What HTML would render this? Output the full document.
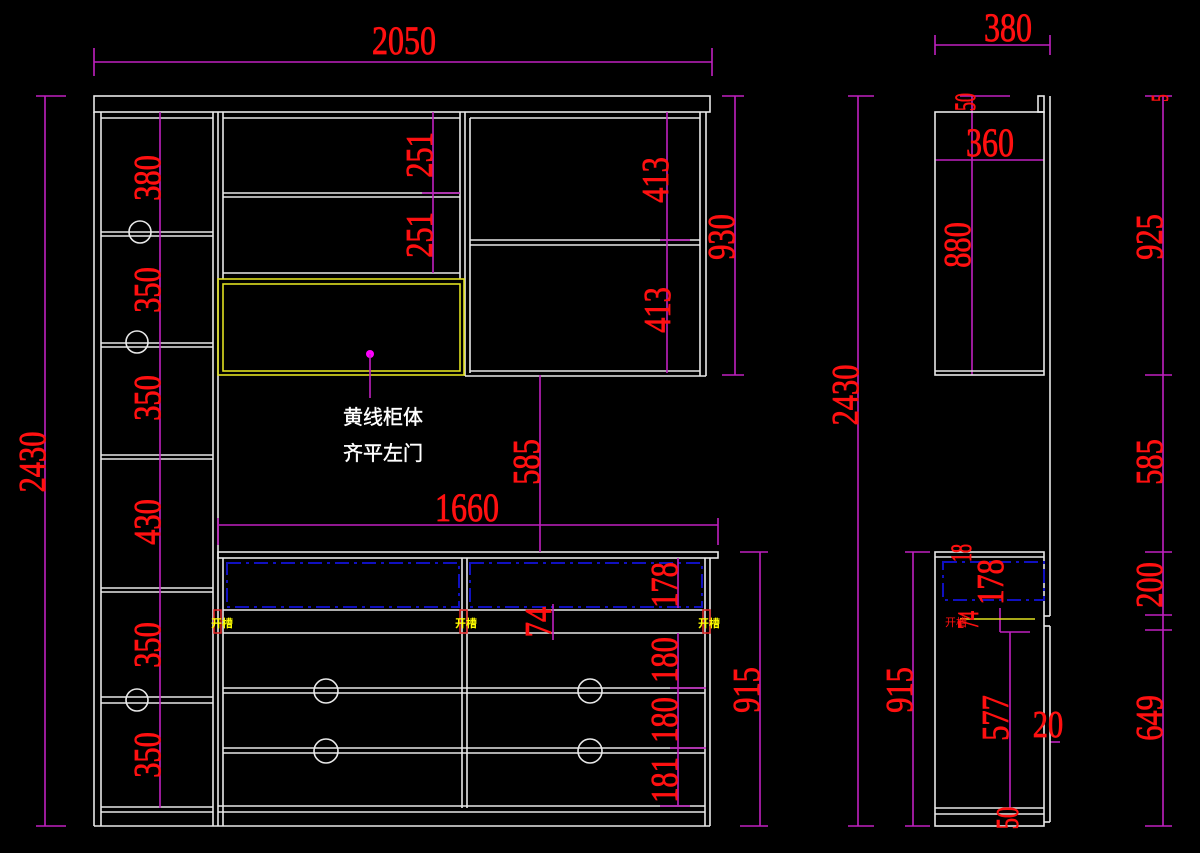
<!DOCTYPE html>
<html><head><meta charset="utf-8"><style>
html,body{margin:0;padding:0;background:#000;width:1200px;height:853px;overflow:hidden}
svg{display:block}
.w{stroke:#e8e8e8;stroke-width:1.6;fill:none}
.m{stroke:#c020c0;stroke-width:1.6;fill:none}
.y{stroke:#e0e020;stroke-width:1.6;fill:none}
.b{stroke:#1010c0;stroke-width:2;fill:none;stroke-dasharray:14 5 3 5}
.t{fill:#ff1010;stroke:#ff1010;stroke-width:0.8;font-family:"Liberation Serif",serif;font-size:40px;text-anchor:middle}
</style></head><body>
<svg width="1200" height="853" viewBox="0 0 1200 853" xmlns="http://www.w3.org/2000/svg">
<g class="w">
<rect x="94" y="96" width="616" height="16"/>
<line x1="94" y1="112" x2="94" y2="826"/><line x1="101" y1="112" x2="101" y2="826"/>
<line x1="94" y1="826" x2="218" y2="826"/>
<line x1="101" y1="118" x2="213" y2="118"/>
<line x1="213" y1="112" x2="213" y2="826"/><line x1="218" y1="112" x2="218" y2="826"/>
<line x1="223" y1="112" x2="223" y2="279"/>
<line x1="223" y1="118" x2="460" y2="118"/>
<line x1="460" y1="112" x2="460" y2="279"/><line x1="465" y1="112" x2="465" y2="376"/>
<line x1="470" y1="118" x2="470" y2="373"/>
<line x1="470" y1="118" x2="700" y2="118"/>
<line x1="700" y1="112" x2="700" y2="376"/><line x1="706" y1="112" x2="706" y2="376"/>
<line x1="465" y1="376" x2="706" y2="376"/><line x1="470" y1="371" x2="700" y2="371"/>
<line x1="101" y1="232" x2="213" y2="232"/><line x1="101" y1="236" x2="213" y2="236"/>
<line x1="101" y1="343" x2="213" y2="343"/><line x1="101" y1="347" x2="213" y2="347"/>
<line x1="101" y1="455" x2="213" y2="455"/><line x1="101" y1="459" x2="213" y2="459"/>
<line x1="101" y1="588" x2="213" y2="588"/><line x1="101" y1="592" x2="213" y2="592"/>
<line x1="101" y1="697" x2="213" y2="697"/><line x1="101" y1="703" x2="213" y2="703"/>
<line x1="101" y1="807" x2="213" y2="807"/><line x1="101" y1="812" x2="213" y2="812"/>
<line x1="223" y1="193" x2="460" y2="193"/><line x1="223" y1="197" x2="460" y2="197"/>
<line x1="223" y1="273" x2="460" y2="273"/>
<line x1="470" y1="240" x2="700" y2="240"/><line x1="470" y1="245" x2="700" y2="245"/>
<circle cx="140" cy="232" r="11"/><circle cx="137" cy="342" r="11"/><circle cx="137" cy="700" r="11"/>
<rect x="218" y="552" width="500" height="6"/>
<line x1="223" y1="558" x2="223" y2="826"/>
<line x1="462" y1="558" x2="462" y2="808"/><line x1="467" y1="558" x2="467" y2="808"/>
<line x1="705" y1="558" x2="705" y2="826"/><line x1="710" y1="558" x2="710" y2="826"/>
<line x1="218" y1="826" x2="710" y2="826"/>
<line x1="223" y1="610" x2="705" y2="610"/><line x1="223" y1="633" x2="705" y2="633"/>
<line x1="223" y1="688" x2="705" y2="688"/><line x1="223" y1="693" x2="705" y2="693"/>
<line x1="223" y1="748" x2="705" y2="748"/><line x1="223" y1="753" x2="705" y2="753"/>
<line x1="218" y1="806" x2="705" y2="806"/><line x1="218" y1="812" x2="705" y2="812"/>
<circle cx="326" cy="691" r="12"/><circle cx="590" cy="691" r="12"/>
<circle cx="326" cy="751" r="12"/><circle cx="590" cy="751" r="12"/>
</g>
<g class="y"><rect x="218" y="279" width="246" height="96"/><rect x="223" y="284" width="237" height="87"/></g>
<g class="b"><rect x="227" y="563" width="232" height="44"/><rect x="470" y="563" width="232" height="44"/></g>
<g stroke="#e02020" fill="none" stroke-width="1.5"><rect x="214" y="610" width="7" height="23"/><rect x="460" y="610" width="7" height="23"/><rect x="703" y="610" width="7" height="23"/></g>
<g fill="#ffff00" font-family="'Liberation Sans','Noto Sans CJK SC',sans-serif" font-size="11" font-weight="bold">
<text x="211" y="627">开槽</text><text x="455" y="627">开槽</text><text x="698" y="627">开槽</text></g>
<circle cx="370" cy="354" r="4" fill="#ff00ff"/>
<line class="m" x1="370" y1="354" x2="370" y2="398"/>
<g fill="#fff" stroke="#fff" stroke-width="0.4" font-family="'Liberation Sans','Noto Sans CJK SC',sans-serif" font-size="20">
<text x="343" y="424">黄线柜体</text><text x="343" y="460">齐平左门</text></g>
<g class="m">
<line x1="94" y1="62" x2="712" y2="62"/><line x1="94" y1="48" x2="94" y2="76"/><line x1="712" y1="48" x2="712" y2="76"/>
<line x1="45" y1="96" x2="45" y2="826"/><line x1="36" y1="96" x2="66" y2="96"/><line x1="36" y1="826" x2="66" y2="826"/>
<line x1="160" y1="112" x2="160" y2="808"/>
<line x1="433" y1="112" x2="433" y2="273"/><line x1="422" y1="193" x2="460" y2="193"/>
<line x1="667" y1="112" x2="667" y2="373"/><line x1="660" y1="240" x2="690" y2="240"/>
<line x1="735" y1="96" x2="735" y2="375"/><line x1="722" y1="96" x2="744" y2="96"/><line x1="722" y1="375" x2="744" y2="375"/>
<line x1="540" y1="375" x2="540" y2="552"/>
<line x1="218" y1="525" x2="718" y2="525"/><line x1="218" y1="518" x2="218" y2="545"/><line x1="718" y1="518" x2="718" y2="545"/>
<line x1="760" y1="552" x2="760" y2="826"/><line x1="740" y1="552" x2="768" y2="552"/><line x1="740" y1="826" x2="768" y2="826"/>
<line x1="678" y1="558" x2="678" y2="608"/><line x1="678" y1="633" x2="678" y2="806"/>
<line x1="670" y1="688" x2="706" y2="688"/><line x1="670" y1="748" x2="706" y2="748"/><line x1="660" y1="806" x2="690" y2="806"/>
<line x1="553" y1="604" x2="553" y2="640"/>
<line x1="935" y1="45" x2="1050" y2="45"/><line x1="935" y1="35" x2="935" y2="55"/><line x1="1050" y1="35" x2="1050" y2="55"/>
<line x1="935" y1="160" x2="1044" y2="160"/>
<line x1="972" y1="96" x2="972" y2="375"/><line x1="960" y1="96" x2="1010" y2="96"/>
<line x1="858" y1="96" x2="858" y2="826"/><line x1="848" y1="96" x2="874" y2="96"/><line x1="848" y1="826" x2="874" y2="826"/>
<line x1="1163" y1="96" x2="1163" y2="826"/><line x1="1145" y1="96" x2="1172" y2="96"/><line x1="1145" y1="375" x2="1172" y2="375"/><line x1="1145" y1="552" x2="1172" y2="552"/><line x1="1145" y1="615" x2="1172" y2="615"/><line x1="1145" y1="630" x2="1172" y2="630"/><line x1="1145" y1="826" x2="1172" y2="826"/>
<line x1="913" y1="552" x2="913" y2="826"/><line x1="905" y1="552" x2="930" y2="552"/><line x1="905" y1="826" x2="930" y2="826"/>
<line x1="1010" y1="632" x2="1010" y2="808"/><line x1="1000" y1="632" x2="1030" y2="632"/>
<line x1="1000" y1="608" x2="1000" y2="632"/>
<line x1="1050" y1="742" x2="1060" y2="742"/>
</g>
<g class="w">
<rect x="935" y="112" width="109" height="263"/><line x1="935" y1="371" x2="1044" y2="371"/>
<rect x="1038" y="96" width="6" height="16"/><line x1="1050" y1="96" x2="1050" y2="552"/>
<rect x="935" y="552" width="109" height="274"/><line x1="935" y1="557" x2="1044" y2="557"/>
<line x1="935" y1="808" x2="1044" y2="808"/><line x1="935" y1="814" x2="1044" y2="814"/>
<line x1="1050" y1="552" x2="1050" y2="616"/><line x1="1044" y1="616" x2="1050" y2="616"/>
<line x1="1044" y1="626" x2="1050" y2="626"/><line x1="1050" y1="626" x2="1050" y2="822"/><line x1="1044" y1="822" x2="1050" y2="822"/>
</g>
<rect class="b" x="943" y="562" width="101" height="38"/>
<line x1="960" y1="619" x2="1035" y2="619" stroke="#e0e020" stroke-width="1.5"/>
<text x="945" y="626" fill="#ff1010" font-family="'Liberation Sans','Noto Sans CJK SC',sans-serif" font-size="11">开槽</text>
<g class="t">
<text transform="translate(404,54) scale(0.8,1)">2050</text>
<text transform="translate(1008,41) scale(0.8,1)">380</text>
<text transform="translate(990,156) scale(0.8,1)">360</text>
<text transform="translate(467,521) scale(0.8,1)">1660</text>
<g font-size="38">
<text transform="translate(45,462) rotate(-90) scale(0.8,1)">2430</text>
<text transform="translate(858,395) rotate(-90) scale(0.8,1)">2430</text>
<text transform="translate(160,178) rotate(-90) scale(0.8,1)">380</text>
<text transform="translate(160,290) rotate(-90) scale(0.8,1)">350</text>
<text transform="translate(160,398) rotate(-90) scale(0.8,1)">350</text>
<text transform="translate(160,522) rotate(-90) scale(0.8,1)">430</text>
<text transform="translate(160,645) rotate(-90) scale(0.8,1)">350</text>
<text transform="translate(160,755) rotate(-90) scale(0.8,1)">350</text>
<text transform="translate(432,155) rotate(-90) scale(0.8,1)">251</text>
<text transform="translate(432,235) rotate(-90) scale(0.8,1)">251</text>
<text transform="translate(668,180) rotate(-90) scale(0.8,1)">413</text>
<text transform="translate(670,310) rotate(-90) scale(0.8,1)">413</text>
<text transform="translate(734,237) rotate(-90) scale(0.8,1)">930</text>
<text transform="translate(539,462) rotate(-90) scale(0.8,1)">585</text>
<text transform="translate(759,690) rotate(-90) scale(0.8,1)">915</text>
<text transform="translate(677,585) rotate(-90) scale(0.8,1)">178</text>
<text transform="translate(677,660) rotate(-90) scale(0.8,1)">180</text>
<text transform="translate(677,720) rotate(-90) scale(0.8,1)">180</text>
<text transform="translate(677,780) rotate(-90) scale(0.8,1)">181</text>
<text transform="translate(551,622) rotate(-90) scale(0.8,1)">74</text>
<text transform="translate(970,245) rotate(-90) scale(0.8,1)">880</text>
<text transform="translate(1162,237) rotate(-90) scale(0.8,1)">925</text>
<text transform="translate(1162,462) rotate(-90) scale(0.8,1)">585</text>
<text transform="translate(1162,585) rotate(-90) scale(0.8,1)">200</text>
<text transform="translate(1162,718) rotate(-90) scale(0.8,1)">649</text>
<text transform="translate(912,690) rotate(-90) scale(0.8,1)">915</text>
<text transform="translate(1008,718) rotate(-90) scale(0.8,1)">577</text>
<text transform="translate(1003,582) rotate(-90) scale(0.8,1)">178</text>
<text transform="translate(1048,725) scale(0.8,1)" dy="12">20</text>
<text transform="translate(975,102) rotate(-90) scale(0.6,1)" font-size="30">50</text>
<text transform="translate(1168,98) rotate(-90) scale(0.6,1)" font-size="24">5</text>
<text transform="translate(971,553) rotate(-90) scale(0.6,1)" font-size="30">18</text>
<text transform="translate(978,620) rotate(-90) scale(0.6,1)" font-size="30">74</text>
<text transform="translate(1018,818) rotate(-90) scale(0.7,1)" font-size="32">50</text>
</g>
</g>
</svg>
</body></html>
